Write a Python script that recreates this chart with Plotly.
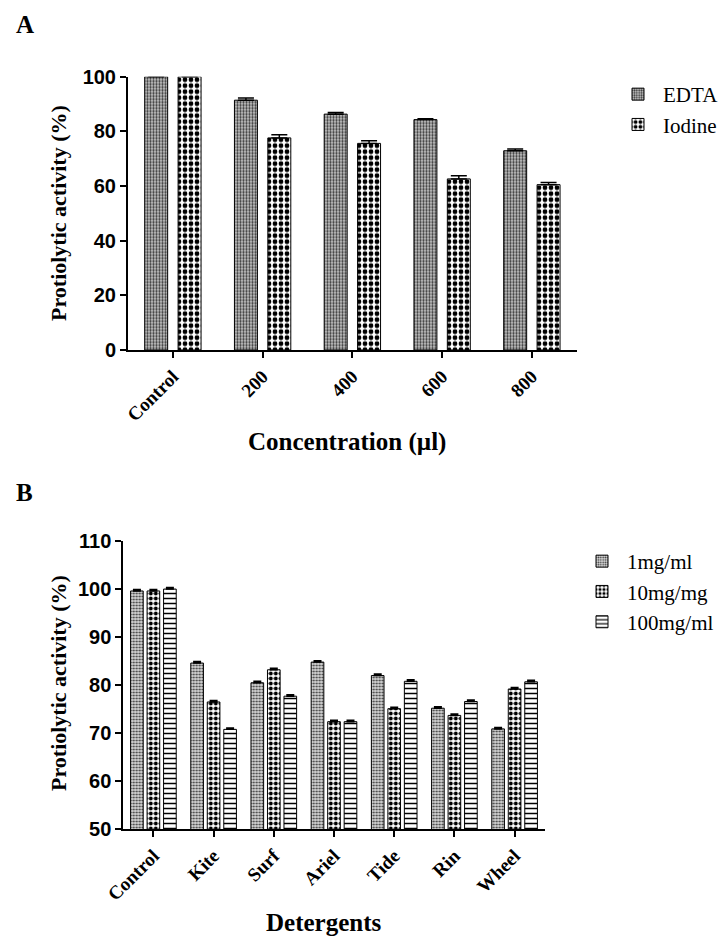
import plotly.graph_objects as go

# ---------------- data ----------------
conc_labels = ["Control", "200", "400", "600", "800"]
edta = [100, 91.4, 86.3, 84.3, 72.9]
edta_err = [0, 0.8, 0.6, 0.3, 0.6]
iodine = [100, 77.6, 75.6, 62.6, 60.5]
iodine_err = [0, 1.2, 1.0, 1.2, 0.8]

det_labels = ["Control", "Kite", "Surf", "Ariel", "Tide", "Rin", "Wheel"]
d1 = [99.6, 84.6, 80.5, 84.8, 82.0, 75.2, 70.9]
d10 = [99.6, 76.5, 83.2, 72.4, 75.1, 73.7, 79.2]
d100 = [100.0, 70.8, 77.7, 72.4, 80.8, 76.6, 80.7]
d_err = [0.3, 0.3, 0.3, 0.3, 0.3, 0.3, 0.3]

W, H = 728, 941
SERIF = "Liberation Serif"
SANS = "Liberation Sans"


def px(x):
    return x / W


def py(y):
    return 1 - y / H


fig = go.Figure()

# ---- Panel A ----
wA = 0.256
fig.add_trace(go.Bar(
    x=conc_labels, y=edta, name="EDTA", xaxis="x", yaxis="y",
    width=wA, offset=-0.314, legend="legend",
    marker=dict(color="#bdbdbd", line=dict(color="black", width=1),
                pattern=dict(shape=".", size=3, solidity=0.45, fgcolor="#383838", bgcolor="#c8c8c8",
                             fillmode="replace")),
    error_y=dict(type="data", array=edta_err, arrayminus=[0] * 5, symmetric=False,
                 color="black", thickness=1.5, width=8),
))
fig.add_trace(go.Bar(
    x=conc_labels, y=iodine, name="Iodine", xaxis="x", yaxis="y",
    width=wA, offset=0.058, legend="legend",
    marker=dict(color="white", line=dict(color="black", width=1),
                pattern=dict(shape=".", size=6, solidity=0.5, fgcolor="black", bgcolor="white",
                             fillmode="replace")),
    error_y=dict(type="data", array=iodine_err, arrayminus=[0] * 5, symmetric=False,
                 color="black", thickness=1.5, width=8),
))

# ---- Panel B ----
wB = 0.21
for vals, name, off, pat in [
    (d1, "1mg/ml", -0.379, dict(shape=".", size=3, solidity=0.4, fgcolor="#3a3a3a", bgcolor="#dadada",
                                fillmode="replace")),
    (d10, "10mg/mg", -0.105, dict(shape=".", size=5, solidity=0.5, fgcolor="black", bgcolor="white",
                                  fillmode="replace")),
    (d100, "100mg/ml", 0.169, dict(shape="-", size=5, solidity=0.3, fgcolor="black", bgcolor="white",
                                   fillmode="replace")),
]:
    fig.add_trace(go.Bar(
        x=det_labels, y=vals, name=name, xaxis="x2", yaxis="y2",
        width=wB, offset=off, legend="legend2",
        marker=dict(color="white", line=dict(color="black", width=1), pattern=pat),
        error_y=dict(type="data", array=d_err, arrayminus=[0] * 7, symmetric=False,
                     color="black", thickness=1.5, width=4),
    ))

axis_common = dict(showline=True, linecolor="black", linewidth=2, ticks="outside",
                   ticklen=6, tickwidth=2, tickcolor="black", showgrid=False, zeroline=False,
                   automargin=False)

fig.update_layout(
    template="none",
    width=W, height=H, autosize=False,
    margin=dict(l=0, r=0, t=0, b=0, pad=0),
    paper_bgcolor="white", plot_bgcolor="white",
    barmode="group",
    xaxis=dict(domain=[px(128), px(128 + 5 * 89.75)], anchor="y", range=[-0.5, 4.5],
               type="category", tickangle=-45,
               tickfont=dict(family=SERIF, size=19, color="black", weight="bold"), **axis_common),
    yaxis=dict(domain=[py(350), py(76.7)], anchor="x", range=[0, 100], dtick=20,
               tickfont=dict(family=SANS, size=20, color="black", weight="bold"), **axis_common),
    xaxis2=dict(domain=[px(123.3), px(123.3 + 7 * 60.2)], anchor="y2", range=[-0.5, 6.5],
                type="category", tickangle=-45,
                tickfont=dict(family=SERIF, size=19, color="black", weight="bold"), **axis_common),
    yaxis2=dict(domain=[py(829.3), py(541)], anchor="x2", range=[50, 110], dtick=10,
                tickfont=dict(family=SANS, size=20, color="black", weight="bold"), **axis_common),
    legend=dict(x=px(613), y=py(74), xanchor="left", yanchor="top",
                font=dict(family=SERIF, size=21, color="black"), bgcolor="rgba(0,0,0,0)",
                tracegroupgap=0, itemwidth=40),
    legend2=dict(x=px(577), y=py(541), xanchor="left", yanchor="top",
                 font=dict(family=SERIF, size=21, color="black"), bgcolor="rgba(0,0,0,0)",
                 tracegroupgap=6, itemwidth=40),
    showlegend=True,
)

ann = []
ann.append(dict(text="A", x=px(14), y=py(24), xref="paper", yref="paper", xanchor="left", yanchor="middle",
                showarrow=False, font=dict(family=SERIF, size=25, color="black", weight="bold")))
ann.append(dict(text="B", x=px(14), y=py(492), xref="paper", yref="paper", xanchor="left", yanchor="middle",
                showarrow=False, font=dict(family=SERIF, size=25, color="black", weight="bold")))
ann.append(dict(text="Protiolytic activity (%)", x=px(58), y=py(213), xref="paper", yref="paper",
                textangle=-90, showarrow=False, xanchor="center", yanchor="middle",
                font=dict(family=SERIF, size=22, color="black", weight="bold")))
ann.append(dict(text="Protiolytic activity (%)", x=px(58), y=py(683), xref="paper", yref="paper",
                textangle=-90, showarrow=False, xanchor="center", yanchor="middle",
                font=dict(family=SERIF, size=22, color="black", weight="bold")))
ann.append(dict(text="Concentration (µl)", x=px(347), y=py(442), xref="paper", yref="paper",
                showarrow=False, xanchor="center", yanchor="middle",
                font=dict(family=SERIF, size=25, color="black", weight="bold")))
ann.append(dict(text="Detergents", x=px(323), y=py(922), xref="paper", yref="paper",
                showarrow=False, xanchor="center", yanchor="middle",
                font=dict(family=SERIF, size=25, color="black", weight="bold")))
fig.update_layout(annotations=ann)

fig.write_html("out.html")
